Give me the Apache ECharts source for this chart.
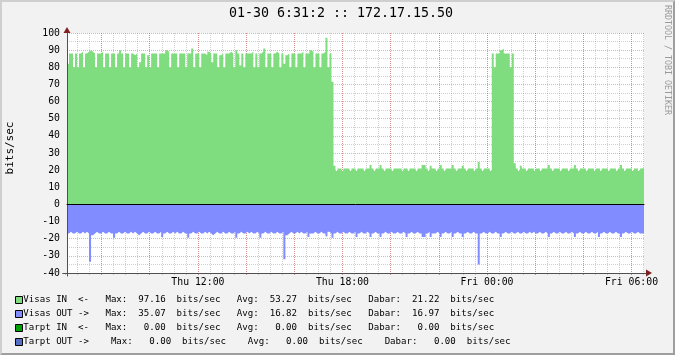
<!DOCTYPE html>
<html><head><meta charset="utf-8">
<script src="https://cdn.jsdelivr.net/npm/echarts@6.0.0/dist/echarts.min.js"></script>
<style>html,body{margin:0;padding:0;background:#f2f2f2}#c{width:675px;height:355px}</style>
</head><body><div id="c"></div>
<script>
const titleText = '01-30 6:31:2 :: 172.17.15.50';
const yAxisTitle = 'bits/sec';
const watermarkText = 'RRDTOOL / TOBI OETIKER';
// time range in minutes since Thu 00:00
const startMin = 394, endMin = 1831;
const visasIn = [
82,88,88,80,88,80,88,89,80,88,89,90,89,88,80,88,88,89,80,88,
88,80,88,88,80,88,90,88,80,88,88,80,88,87,88,80,83,88,88,80,
87,80,88,88,88,80,88,88,88,90,89,80,88,88,88,80,88,88,88,80,
88,88,91,80,88,88,80,88,88,87,89,88,83,88,88,80,87,88,80,88,
88,89,88,80,90,88,81,88,80,88,88,88,89,80,88,80,88,89,91,80,
88,88,80,88,89,88,80,88,82,87,88,80,88,88,80,88,88,89,80,88,
88,90,89,80,88,88,80,88,89,97.16,80,88,
71.5,
22.5,19.5,21,21,19.5,21,21,21,19.5,21,
21,19.5,21,21,21,19.5,21,21,23,21,
19.5,21,21,23,21,19.5,21,21,21,19.5,
21,21,21,21,19.5,21,21,19.5,21,21,
21,19.5,21,21,23,23,21,19.5,22.5,21,
21,19.5,21,23,21,19.5,21,21,21,23,
21,19.5,21,21,22.5,21,19.5,21,21,21,
19.5,21,24.7,21,19.5,21,21,21,19.5,
88,80,88,88,90,91,88,88,88,80,88,
24,21,19.5,22.5,21,21,19.5,21,21,21,
19.5,21,21,19.5,21,21,21,23,21,19.5,
21,21,21,19.5,21,21,21,19.5,21,21,
23,21,19.5,21,21,21,19.5,21,21,21,
19.5,21,21,19.5,21,21,21,19.5,21,21,
21,19.5,21,23,21,19.5,21,21,21,19.5,
21,21,19.5,21,21.22
];
const visasOut = [
17,16,17,17,16,17,17,16,17,16,17,33.4,18,17,16,17,17,16,17,17,
16,17,17,19.5,17,16,17,17,16,17,17,16,17,16,17,18,17,16,17,17,
16,17,17,16,17,17,16,19,17,16,17,17,16,17,16,17,17,16,17,17,
19.5,17,16,17,17,16,17,17,16,17,16,17,18,17,16,17,17,16,17,17,
16,17,17,16,19.5,17,16,17,17,16,17,16,17,17,16,17,19.5,17,16,17,
17,16,17,17,16,17,17,16,32,18,17,16,17,17,16,17,16,17,17,16,
19,17,17,16,17,17,16,17,17,18.5,16,17,19.5,17,16,17,17,16,17,17,
16,17,17,16,19,17,16,17,17,16,17,19,17,16,17,17,19,17,16,17,
17,16,17,17,16,17,17,16,17,19,17,16,17,17,16,17,17,19,19,17,
16,19,17,17,16,17,19,17,16,17,17,16,19,17,16,17,17,19,17,16,
17,17,16,17,17,35.07,17,16,17,17,16,17,17,16,17,17,19,17,16,17,
17,16,17,17,16,17,17,16,17,17,16,17,16,17,17,16,17,17,16,17,
19,17,16,17,17,16,17,17,16,17,17,16,17,19,17,16,17,17,16,17,
17,16,17,17,16,19,17,16,17,17,16,17,17,16,17,17,19,17,16,17,
17,16,17,17,16,17,17,16.97
];
const xTickValues = [720, 1080, 1440, 1800];
const xTickLabels = ['Thu 12:00', 'Thu 18:00', 'Fri 00:00', 'Fri 06:00'];
const legendNames = ['Visas IN  <-', 'Visas OUT ->', 'Tarpt IN  <-', 'Tarpt OUT ->'];
const legendMax = [97.16, 35.07, 0.00, 0.00];
const legendAvg = [53.27, 16.82, 0.00, 0.00];
const legendCur = [21.22, 16.97, 0.00, 0.00];

const inColor = '#7fdc7f', outColor = '#808cff';
const legendColors = [inColor, outColor, '#00a000', '#5470c6'];
const mono = '"DejaVu Sans Mono", monospace';
const gridCol = 'rgba(120,120,120,0.35)';
const mgridCol = 'rgba(215,60,60,0.42)';
const arrowCol = 'rgb(128,31,31)';
const axisCol = '#505050';

const n = visasIn.length;
const step = (endMin - startMin) / n;
function toSeries(vals, sign) {
  const d = vals.map((v, i) => [startMin + i * step, sign * v]);
  d.push([endMin, sign * vals[vals.length - 1]]);
  return d;
}

const base = {outerBoundsMode: 'none', containLabel: false, top: 33, height: 240};
const grids = [
  Object.assign({}, base, {left: 67, right: 31, show: true, backgroundColor: '#ffffff', borderWidth: 0}),
  Object.assign({}, base, {left: 65.4, right: 31.5}),
  Object.assign({}, base, {left: 101.5, right: 43.5}),
  Object.assign({}, base, {left: 197.9, right: 43.5}),
  Object.assign({}, base, {left: 63, right: 29}),
  Object.assign({}, base, {left: 63, right: 29}),
  {outerBoundsMode: 'none', containLabel: false, left: 67, right: 31, top: 33, height: 243}
];
const off = {axisTick: {show: false}, axisLabel: {show: false}, splitLine: {show: false}};
const xAxes = [
  Object.assign({}, off, {gridIndex: 0, type: 'value', min: startMin, max: endMin, z: 5,
    axisLine: {show: true, onZero: true, lineStyle: {color: '#000', width: 1}}}),
  Object.assign({}, off, {gridIndex: 1, type: 'value', min: 390, max: 1830, interval: 30, z: 3,
    axisLine: {show: false, onZero: false},
    axisTick: {show: true, length: 2, lineStyle: {color: gridCol}},
    splitLine: {show: true, showMinLine: false, lineStyle: {color: gridCol, width: 1, type: [1, 1]}}}),
  Object.assign({}, off, {gridIndex: 2, type: 'value', min: 480, max: 1800, interval: 120, z: 3,
    axisLine: {show: false, onZero: false},
    axisTick: {show: true, length: 2, lineStyle: {color: mgridCol}},
    splitLine: {show: true, lineStyle: {color: mgridCol, width: 1, type: [1, 1]}}}),
  Object.assign({}, off, {gridIndex: 3, type: 'value', min: 720, max: 1800, interval: 360,
    axisLine: {show: false, onZero: false},
    axisLabel: {show: true, margin: 4, color: '#000', fontFamily: mono, fontSize: 9.8,
      showMinLabel: true, showMaxLabel: true,
      formatter: v => { const k = xTickValues.indexOf(Math.round(v)); return k >= 0 ? xTickLabels[k] : ''; }}}),
  Object.assign({}, off, {gridIndex: 4, type: 'value', min: 0, max: 1, z: 3,
    axisLine: {show: true, onZero: false, symbol: ['none', 'triangle'], symbolSize: [7, 6], symbolOffset: [0, 3],
      lineStyle: {color: arrowCol, width: 1}}}),
  Object.assign({}, off, {gridIndex: 5, type: 'value', min: 0, max: 1, z: 4,
    axisLine: {show: true, onZero: false, lineStyle: {color: axisCol, width: 1}}}),
  {gridIndex: 6, type: 'value', min: 0, max: 1, show: false}
];
const yAxes = [
  {gridIndex: 0, type: 'value', min: -40, max: 100, interval: 10, z: 3,
    axisLine: {show: true, onZero: false, symbol: ['none', 'triangle'], symbolSize: [7, 6], symbolOffset: [0, 3],
      lineStyle: {color: arrowCol, width: 1}},
    axisTick: {show: false},
    axisLabel: {color: '#000', fontFamily: mono, fontSize: 9.8, margin: 7},
    splitLine: {show: true, lineStyle: {color: mgridCol, width: 1, type: [1, 1]}},
    minorTick: {show: false, splitNumber: 2},
    minorSplitLine: {show: true, lineStyle: {color: gridCol, width: 1, type: [1, 1]}}},
  {gridIndex: 1, type: 'value', min: -40, max: 100, show: false},
  {gridIndex: 2, type: 'value', min: -40, max: 100, show: false},
  {gridIndex: 3, type: 'value', min: -40, max: 100, show: false},
  {gridIndex: 4, type: 'value', min: 0, max: 1, show: false},
  {gridIndex: 5, type: 'value', min: 0, max: 1, show: false},
  Object.assign({}, off, {gridIndex: 6, type: 'value', min: 0, max: 1, z: 4,
    axisLine: {show: true, onZero: false, lineStyle: {color: axisCol, width: 1}}})
];

function legendLine(r) {
  const gap = r === 3 ? '    ' : '   ';
  const f = v => v.toFixed(2).padStart(5, ' ');
  return legendNames[r] + gap + 'Max:  ' + f(legendMax[r]) + '  bits/sec' + gap +
    'Avg:  ' + f(legendAvg[r]) + '  bits/sec' + gap + 'Dabar:  ' + f(legendCur[r]) + '  bits/sec';
}
const graphics = [
  {type: 'polygon', z: 100, shape: {points: [[0,0],[675,0],[673,2],[2,2],[2,353],[0,355]]}, style: {fill: '#cfcfcf'}},
  {type: 'polygon', z: 100, shape: {points: [[675,0],[675,355],[0,355],[2,353],[673,353],[673,2]]}, style: {fill: '#9e9e9e'}},
  {type: 'text', z: 100, x: 341, y: 14, style: {text: titleText, font: '13.3px ' + mono, fill: '#000',
    align: 'center', verticalAlign: 'middle', textAlign: 'center', textVerticalAlign: 'middle'}},
  {type: 'text', z: 100, x: 10, y: 148, rotation: Math.PI / 2, style: {text: yAxisTitle, font: '11px ' + mono, fill: '#000',
    align: 'center', verticalAlign: 'middle', textAlign: 'center', textVerticalAlign: 'middle'}},
  {type: 'text', z: 100, x: 667, y: 60, rotation: -Math.PI / 2, style: {text: watermarkText, font: '8.3px ' + mono, fill: '#9a9a9a',
    align: 'center', verticalAlign: 'middle', textAlign: 'center', textVerticalAlign: 'middle'}}
];
for (let r = 0; r < legendNames.length; r++) {
  graphics.push({type: 'rect', z: 100, shape: {x: 15.5, y: 296.5 + 14 * r, width: 7, height: 7},
    style: {fill: legendColors[r], stroke: '#000', lineWidth: 1}});
  graphics.push({type: 'text', z: 100, x: 23.3, y: 300 + 14 * r, style: {text: legendLine(r), font: '9.1px ' + mono, fill: '#000',
    align: 'left', verticalAlign: 'middle', textAlign: 'left', textVerticalAlign: 'middle'}});
}

const chart = echarts.init(document.getElementById('c'));
chart.setOption({
  animation: false,
  backgroundColor: '#f2f2f2',
  grid: grids,
  xAxis: xAxes,
  yAxis: yAxes,
  graphic: graphics,
  series: [
    {type: 'line', name: 'Visas IN', xAxisIndex: 0, yAxisIndex: 0, step: 'end', data: toSeries(visasIn, 1),
      showSymbol: false, symbol: 'none', silent: true, lineStyle: {width: 0, opacity: 0},
      areaStyle: {color: inColor, opacity: 1}},
    {type: 'line', name: 'Visas OUT', xAxisIndex: 0, yAxisIndex: 0, step: 'end', data: toSeries(visasOut, -1),
      showSymbol: false, symbol: 'none', silent: true, lineStyle: {width: 0, opacity: 0},
      areaStyle: {color: outColor, opacity: 1}}
  ]
});
</script>
</body></html>
